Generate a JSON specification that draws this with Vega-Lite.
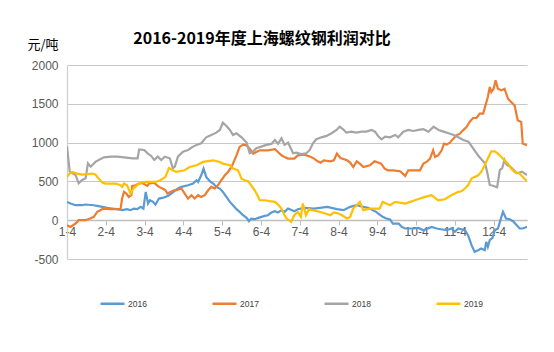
{
  "$schema": "https://vega.github.io/schema/vega-lite/v6.json",
  "autosize": "none",
  "width": 460,
  "height": 194,
  "padding": {"left": 67, "top": 65, "right": 27, "bottom": 93},
  "background": "white",
  "title": {
    "text": "2016-2019年度上海螺纹钢利润对比",
    "font": "Noto Sans CJK SC",
    "fontSize": 16,
    "fontWeight": "bold",
    "color": "#000000",
    "anchor": "middle",
    "frame": "group",
    "dx": -35,
    "offset": -9
  },
  "config": {
    "view": {"stroke": null},
    "axis": {"labelFont": "Liberation Sans", "labelFontSize": 12, "labelColor": "#595959"}
  },
  "datasets": {
    "profit": [
      {"year":"2016","month":1.00,"value":236},{"year":"2016","month":1.09,"value":215},{"year":"2016","month":1.22,"value":193},{"year":"2016","month":1.39,"value":193},{"year":"2016","month":1.47,"value":202},{"year":"2016","month":1.69,"value":193},{"year":"2016","month":1.78,"value":184},{"year":"2016","month":1.91,"value":172},{"year":"2016","month":2.03,"value":159},{"year":"2016","month":2.16,"value":150},{"year":"2016","month":2.29,"value":142},{"year":"2016","month":2.42,"value":129},{"year":"2016","month":2.55,"value":142},{"year":"2016","month":2.64,"value":129},{"year":"2016","month":2.72,"value":150},{"year":"2016","month":2.81,"value":142},{"year":"2016","month":2.90,"value":172},{"year":"2016","month":2.97,"value":150},{"year":"2016","month":3.03,"value":365},{"year":"2016","month":3.09,"value":215},{"year":"2016","month":3.14,"value":257},{"year":"2016","month":3.22,"value":236},{"year":"2016","month":3.28,"value":200},{"year":"2016","month":3.37,"value":279},{"year":"2016","month":3.46,"value":287},{"year":"2016","month":3.54,"value":300},{"year":"2016","month":3.63,"value":322},{"year":"2016","month":3.72,"value":355},{"year":"2016","month":3.80,"value":386},{"year":"2016","month":3.86,"value":408},{"year":"2016","month":3.95,"value":429},{"year":"2016","month":4.12,"value":450},{"year":"2016","month":4.25,"value":472},{"year":"2016","month":4.34,"value":515},{"year":"2016","month":4.38,"value":493},{"year":"2016","month":4.46,"value":579},{"year":"2016","month":4.52,"value":665},{"year":"2016","month":4.59,"value":558},{"year":"2016","month":4.68,"value":502},{"year":"2016","month":4.77,"value":472},{"year":"2016","month":4.85,"value":429},{"year":"2016","month":4.94,"value":408},{"year":"2016","month":5.02,"value":365},{"year":"2016","month":5.11,"value":300},{"year":"2016","month":5.20,"value":236},{"year":"2016","month":5.28,"value":193},{"year":"2016","month":5.37,"value":142},{"year":"2016","month":5.45,"value":107},{"year":"2016","month":5.54,"value":64},{"year":"2016","month":5.63,"value":30},{"year":"2016","month":5.69,"value":-13},{"year":"2016","month":5.75,"value":21},{"year":"2016","month":5.84,"value":13},{"year":"2016","month":5.93,"value":30},{"year":"2016","month":6.10,"value":56},{"year":"2016","month":6.18,"value":64},{"year":"2016","month":6.27,"value":99},{"year":"2016","month":6.36,"value":116},{"year":"2016","month":6.44,"value":99},{"year":"2016","month":6.53,"value":129},{"year":"2016","month":6.61,"value":107},{"year":"2016","month":6.70,"value":150},{"year":"2016","month":6.86,"value":116},{"year":"2016","month":6.95,"value":142},{"year":"2016","month":7.12,"value":159},{"year":"2016","month":7.37,"value":150},{"year":"2016","month":7.71,"value":172},{"year":"2016","month":7.96,"value":142},{"year":"2016","month":8.13,"value":129},{"year":"2016","month":8.30,"value":172},{"year":"2016","month":8.47,"value":193},{"year":"2016","month":8.64,"value":172},{"year":"2016","month":8.76,"value":159},{"year":"2016","month":8.89,"value":129},{"year":"2016","month":8.97,"value":107},{"year":"2016","month":9.06,"value":73},{"year":"2016","month":9.14,"value":43},{"year":"2016","month":9.23,"value":21},{"year":"2016","month":9.33,"value":10},{"year":"2016","month":9.40,"value":-43},{"year":"2016","month":9.55,"value":-43},{"year":"2016","month":9.63,"value":-86},{"year":"2016","month":9.72,"value":-107},{"year":"2016","month":9.93,"value":-107},{"year":"2016","month":10.06,"value":-99},{"year":"2016","month":10.19,"value":-129},{"year":"2016","month":10.40,"value":-86},{"year":"2016","month":10.53,"value":-107},{"year":"2016","month":10.79,"value":-129},{"year":"2016","month":10.91,"value":-107},{"year":"2016","month":11.00,"value":-150},{"year":"2016","month":11.09,"value":-107},{"year":"2016","month":11.26,"value":-129},{"year":"2016","month":11.34,"value":-193},{"year":"2016","month":11.43,"value":-322},{"year":"2016","month":11.51,"value":-408},{"year":"2016","month":11.60,"value":-386},{"year":"2016","month":11.68,"value":-365},{"year":"2016","month":11.77,"value":-386},{"year":"2016","month":11.81,"value":-279},{"year":"2016","month":11.85,"value":-343},{"year":"2016","month":11.90,"value":-257},{"year":"2016","month":11.97,"value":-227},{"year":"2016","month":12.03,"value":-129},{"year":"2016","month":12.11,"value":-107},{"year":"2016","month":12.20,"value":43},{"year":"2016","month":12.24,"value":107},{"year":"2016","month":12.32,"value":21},{"year":"2016","month":12.41,"value":13},{"year":"2016","month":12.50,"value":-13},{"year":"2016","month":12.67,"value":-107},{"year":"2016","month":12.75,"value":-107},{"year":"2016","month":12.86,"value":-86},

      {"year":"2017","month":1.00,"value":-64},{"year":"2017","month":1.09,"value":-86},{"year":"2017","month":1.22,"value":-43},{"year":"2017","month":1.30,"value":0},{"year":"2017","month":1.47,"value":0},{"year":"2017","month":1.60,"value":21},{"year":"2017","month":1.69,"value":43},{"year":"2017","month":1.78,"value":107},{"year":"2017","month":1.86,"value":129},{"year":"2017","month":1.93,"value":150},{"year":"2017","month":2.12,"value":142},{"year":"2017","month":2.38,"value":142},{"year":"2017","month":2.42,"value":279},{"year":"2017","month":2.47,"value":365},{"year":"2017","month":2.53,"value":343},{"year":"2017","month":2.59,"value":300},{"year":"2017","month":2.66,"value":322},{"year":"2017","month":2.68,"value":442},{"year":"2017","month":2.77,"value":450},{"year":"2017","month":2.85,"value":472},{"year":"2017","month":2.94,"value":480},{"year":"2017","month":3.07,"value":442},{"year":"2017","month":3.11,"value":472},{"year":"2017","month":3.24,"value":485},{"year":"2017","month":3.37,"value":429},{"year":"2017","month":3.46,"value":408},{"year":"2017","month":3.54,"value":386},{"year":"2017","month":3.59,"value":343},{"year":"2017","month":3.67,"value":365},{"year":"2017","month":3.76,"value":386},{"year":"2017","month":3.82,"value":386},{"year":"2017","month":3.95,"value":408},{"year":"2017","month":4.12,"value":279},{"year":"2017","month":4.21,"value":322},{"year":"2017","month":4.29,"value":279},{"year":"2017","month":4.38,"value":322},{"year":"2017","month":4.46,"value":300},{"year":"2017","month":4.55,"value":322},{"year":"2017","month":4.64,"value":386},{"year":"2017","month":4.72,"value":429},{"year":"2017","month":4.81,"value":408},{"year":"2017","month":4.89,"value":450},{"year":"2017","month":4.98,"value":515},{"year":"2017","month":5.07,"value":579},{"year":"2017","month":5.15,"value":622},{"year":"2017","month":5.24,"value":686},{"year":"2017","month":5.28,"value":729},{"year":"2017","month":5.37,"value":836},{"year":"2017","month":5.45,"value":944},{"year":"2017","month":5.54,"value":974},{"year":"2017","month":5.63,"value":965},{"year":"2017","month":5.71,"value":922},{"year":"2017","month":5.80,"value":858},{"year":"2017","month":5.88,"value":879},{"year":"2017","month":5.97,"value":901},{"year":"2017","month":6.18,"value":901},{"year":"2017","month":6.36,"value":914},{"year":"2017","month":6.44,"value":879},{"year":"2017","month":6.53,"value":836},{"year":"2017","month":6.61,"value":815},{"year":"2017","month":6.70,"value":794},{"year":"2017","month":6.86,"value":794},{"year":"2017","month":6.95,"value":836},{"year":"2017","month":7.12,"value":845},{"year":"2017","month":7.29,"value":815},{"year":"2017","month":7.37,"value":794},{"year":"2017","month":7.46,"value":759},{"year":"2017","month":7.54,"value":742},{"year":"2017","month":7.62,"value":772},{"year":"2017","month":7.79,"value":759},{"year":"2017","month":7.88,"value":772},{"year":"2017","month":7.96,"value":858},{"year":"2017","month":8.05,"value":802},{"year":"2017","month":8.22,"value":772},{"year":"2017","month":8.30,"value":742},{"year":"2017","month":8.38,"value":686},{"year":"2017","month":8.47,"value":759},{"year":"2017","month":8.55,"value":729},{"year":"2017","month":8.64,"value":686},{"year":"2017","month":8.81,"value":708},{"year":"2017","month":8.93,"value":759},{"year":"2017","month":9.10,"value":729},{"year":"2017","month":9.19,"value":665},{"year":"2017","month":9.27,"value":643},{"year":"2017","month":9.40,"value":643},{"year":"2017","month":9.59,"value":631},{"year":"2017","month":9.72,"value":571},{"year":"2017","month":9.80,"value":643},{"year":"2017","month":10.10,"value":643},{"year":"2017","month":10.19,"value":729},{"year":"2017","month":10.27,"value":751},{"year":"2017","month":10.36,"value":794},{"year":"2017","month":10.44,"value":901},{"year":"2017","month":10.49,"value":815},{"year":"2017","month":10.57,"value":836},{"year":"2017","month":10.66,"value":901},{"year":"2017","month":10.72,"value":987},{"year":"2017","month":10.79,"value":974},{"year":"2017","month":10.87,"value":999},{"year":"2017","month":10.96,"value":1051},{"year":"2017","month":11.04,"value":1094},{"year":"2017","month":11.13,"value":1115},{"year":"2017","month":11.21,"value":1158},{"year":"2017","month":11.30,"value":1201},{"year":"2017","month":11.38,"value":1266},{"year":"2017","month":11.47,"value":1317},{"year":"2017","month":11.56,"value":1317},{"year":"2017","month":11.64,"value":1373},{"year":"2017","month":11.73,"value":1373},{"year":"2017","month":11.79,"value":1480},{"year":"2017","month":11.85,"value":1587},{"year":"2017","month":11.90,"value":1716},{"year":"2017","month":11.94,"value":1652},{"year":"2017","month":12.00,"value":1694},{"year":"2017","month":12.05,"value":1802},{"year":"2017","month":12.11,"value":1694},{"year":"2017","month":12.20,"value":1673},{"year":"2017","month":12.28,"value":1694},{"year":"2017","month":12.37,"value":1566},{"year":"2017","month":12.45,"value":1523},{"year":"2017","month":12.54,"value":1480},{"year":"2017","month":12.62,"value":1287},{"year":"2017","month":12.71,"value":1266},{"year":"2017","month":12.75,"value":987},{"year":"2017","month":12.86,"value":965},

      {"year":"2018","month":1.00,"value":950},{"year":"2018","month":1.07,"value":626},{"year":"2018","month":1.22,"value":583},{"year":"2018","month":1.30,"value":476},{"year":"2018","month":1.39,"value":519},{"year":"2018","month":1.48,"value":540},{"year":"2018","month":1.54,"value":733},{"year":"2018","month":1.61,"value":690},{"year":"2018","month":1.74,"value":755},{"year":"2018","month":1.95,"value":810},{"year":"2018","month":2.13,"value":819},{"year":"2018","month":2.30,"value":819},{"year":"2018","month":2.47,"value":810},{"year":"2018","month":2.69,"value":798},{"year":"2018","month":2.82,"value":798},{"year":"2018","month":2.86,"value":913},{"year":"2018","month":2.99,"value":905},{"year":"2018","month":3.08,"value":862},{"year":"2018","month":3.17,"value":828},{"year":"2018","month":3.25,"value":776},{"year":"2018","month":3.34,"value":819},{"year":"2018","month":3.43,"value":776},{"year":"2018","month":3.52,"value":819},{"year":"2018","month":3.65,"value":798},{"year":"2018","month":3.73,"value":669},{"year":"2018","month":3.78,"value":690},{"year":"2018","month":3.86,"value":819},{"year":"2018","month":3.99,"value":884},{"year":"2018","month":4.12,"value":905},{"year":"2018","month":4.25,"value":948},{"year":"2018","month":4.34,"value":970},{"year":"2018","month":4.46,"value":991},{"year":"2018","month":4.59,"value":1068},{"year":"2018","month":4.72,"value":1098},{"year":"2018","month":4.85,"value":1128},{"year":"2018","month":4.94,"value":1163},{"year":"2018","month":5.02,"value":1258},{"year":"2018","month":5.11,"value":1215},{"year":"2018","month":5.20,"value":1163},{"year":"2018","month":5.28,"value":1098},{"year":"2018","month":5.37,"value":1120},{"year":"2018","month":5.50,"value":1068},{"year":"2018","month":5.63,"value":1000},{"year":"2018","month":5.71,"value":862},{"year":"2018","month":5.80,"value":884},{"year":"2018","month":5.88,"value":927},{"year":"2018","month":6.01,"value":948},{"year":"2018","month":6.14,"value":970},{"year":"2018","month":6.27,"value":983},{"year":"2018","month":6.36,"value":1034},{"year":"2018","month":6.44,"value":983},{"year":"2018","month":6.53,"value":1056},{"year":"2018","month":6.61,"value":970},{"year":"2018","month":6.70,"value":1000},{"year":"2018","month":6.83,"value":862},{"year":"2018","month":6.91,"value":870},{"year":"2018","month":7.04,"value":853},{"year":"2018","month":7.17,"value":862},{"year":"2018","month":7.26,"value":905},{"year":"2018","month":7.34,"value":991},{"year":"2018","month":7.43,"value":1043},{"year":"2018","month":7.56,"value":1068},{"year":"2018","month":7.69,"value":1086},{"year":"2018","month":7.82,"value":1120},{"year":"2018","month":7.95,"value":1163},{"year":"2018","month":8.03,"value":1206},{"year":"2018","month":8.12,"value":1172},{"year":"2018","month":8.20,"value":1128},{"year":"2018","month":8.33,"value":1141},{"year":"2018","month":8.46,"value":1128},{"year":"2018","month":8.59,"value":1141},{"year":"2018","month":8.72,"value":1141},{"year":"2018","month":8.85,"value":1163},{"year":"2018","month":8.94,"value":1141},{"year":"2018","month":9.02,"value":1086},{"year":"2018","month":9.11,"value":1043},{"year":"2018","month":9.20,"value":1077},{"year":"2018","month":9.33,"value":1068},{"year":"2018","month":9.46,"value":1098},{"year":"2018","month":9.54,"value":1068},{"year":"2018","month":9.67,"value":1141},{"year":"2018","month":9.80,"value":1163},{"year":"2018","month":9.93,"value":1150},{"year":"2018","month":10.06,"value":1163},{"year":"2018","month":10.19,"value":1172},{"year":"2018","month":10.32,"value":1141},{"year":"2018","month":10.45,"value":1206},{"year":"2018","month":10.58,"value":1163},{"year":"2018","month":10.71,"value":1141},{"year":"2018","month":10.84,"value":1120},{"year":"2018","month":10.97,"value":1098},{"year":"2018","month":11.09,"value":1068},{"year":"2018","month":11.22,"value":1034},{"year":"2018","month":11.35,"value":1013},{"year":"2018","month":11.44,"value":948},{"year":"2018","month":11.53,"value":884},{"year":"2018","month":11.61,"value":828},{"year":"2018","month":11.70,"value":776},{"year":"2018","month":11.78,"value":733},{"year":"2018","month":11.84,"value":604},{"year":"2018","month":11.90,"value":454},{"year":"2018","month":12.00,"value":441},{"year":"2018","month":12.09,"value":424},{"year":"2018","month":12.16,"value":647},{"year":"2018","month":12.22,"value":669},{"year":"2018","month":12.28,"value":776},{"year":"2018","month":12.34,"value":712},{"year":"2018","month":12.43,"value":690},{"year":"2018","month":12.52,"value":647},{"year":"2018","month":12.60,"value":604},{"year":"2018","month":12.73,"value":626},{"year":"2018","month":12.86,"value":583},

      {"year":"2019","month":1.00,"value":558},{"year":"2019","month":1.07,"value":601},{"year":"2019","month":1.13,"value":622},{"year":"2019","month":1.26,"value":601},{"year":"2019","month":1.39,"value":588},{"year":"2019","month":1.65,"value":601},{"year":"2019","month":1.73,"value":588},{"year":"2019","month":1.82,"value":536},{"year":"2019","month":1.91,"value":485},{"year":"2019","month":1.99,"value":472},{"year":"2019","month":2.25,"value":472},{"year":"2019","month":2.38,"value":450},{"year":"2019","month":2.42,"value":429},{"year":"2019","month":2.47,"value":472},{"year":"2019","month":2.55,"value":450},{"year":"2019","month":2.64,"value":343},{"year":"2019","month":2.71,"value":408},{"year":"2019","month":2.79,"value":442},{"year":"2019","month":2.90,"value":485},{"year":"2019","month":3.03,"value":493},{"year":"2019","month":3.28,"value":493},{"year":"2019","month":3.41,"value":515},{"year":"2019","month":3.54,"value":558},{"year":"2019","month":3.63,"value":674},{"year":"2019","month":3.72,"value":643},{"year":"2019","month":3.82,"value":622},{"year":"2019","month":4.03,"value":643},{"year":"2019","month":4.16,"value":686},{"year":"2019","month":4.34,"value":708},{"year":"2019","month":4.51,"value":751},{"year":"2019","month":4.59,"value":759},{"year":"2019","month":4.77,"value":772},{"year":"2019","month":4.94,"value":751},{"year":"2019","month":5.02,"value":729},{"year":"2019","month":5.20,"value":708},{"year":"2019","month":5.28,"value":665},{"year":"2019","month":5.41,"value":643},{"year":"2019","month":5.50,"value":536},{"year":"2019","month":5.58,"value":515},{"year":"2019","month":5.67,"value":502},{"year":"2019","month":5.75,"value":450},{"year":"2019","month":5.84,"value":386},{"year":"2019","month":5.91,"value":322},{"year":"2019","month":5.97,"value":257},{"year":"2019","month":6.10,"value":257},{"year":"2019","month":6.23,"value":245},{"year":"2019","month":6.36,"value":236},{"year":"2019","month":6.44,"value":202},{"year":"2019","month":6.53,"value":150},{"year":"2019","month":6.61,"value":64},{"year":"2019","month":6.66,"value":21},{"year":"2019","month":6.72,"value":0},{"year":"2019","month":6.78,"value":-21},{"year":"2019","month":6.86,"value":64},{"year":"2019","month":6.95,"value":107},{"year":"2019","month":7.03,"value":43},{"year":"2019","month":7.08,"value":215},{"year":"2019","month":7.16,"value":64},{"year":"2019","month":7.24,"value":142},{"year":"2019","month":7.33,"value":129},{"year":"2019","month":7.58,"value":99},{"year":"2019","month":7.79,"value":64},{"year":"2019","month":7.88,"value":99},{"year":"2019","month":8.00,"value":86},{"year":"2019","month":8.09,"value":64},{"year":"2019","month":8.22,"value":21},{"year":"2019","month":8.30,"value":43},{"year":"2019","month":8.38,"value":150},{"year":"2019","month":8.47,"value":193},{"year":"2019","month":8.55,"value":236},{"year":"2019","month":8.64,"value":129},{"year":"2019","month":8.81,"value":150},{"year":"2019","month":9.06,"value":150},{"year":"2019","month":9.14,"value":236},{"year":"2019","month":9.23,"value":215},{"year":"2019","month":9.33,"value":193},{"year":"2019","month":9.46,"value":236},{"year":"2019","month":9.72,"value":215},{"year":"2019","month":9.85,"value":236},{"year":"2019","month":9.97,"value":257},{"year":"2019","month":10.10,"value":279},{"year":"2019","month":10.23,"value":300},{"year":"2019","month":10.40,"value":322},{"year":"2019","month":10.57,"value":257},{"year":"2019","month":10.74,"value":270},{"year":"2019","month":10.91,"value":322},{"year":"2019","month":11.00,"value":343},{"year":"2019","month":11.09,"value":365},{"year":"2019","month":11.17,"value":373},{"year":"2019","month":11.26,"value":408},{"year":"2019","month":11.34,"value":450},{"year":"2019","month":11.43,"value":536},{"year":"2019","month":11.51,"value":558},{"year":"2019","month":11.60,"value":579},{"year":"2019","month":11.68,"value":622},{"year":"2019","month":11.77,"value":708},{"year":"2019","month":11.85,"value":794},{"year":"2019","month":11.94,"value":888},{"year":"2019","month":12.03,"value":888},{"year":"2019","month":12.11,"value":858},{"year":"2019","month":12.20,"value":815},{"year":"2019","month":12.28,"value":772},{"year":"2019","month":12.37,"value":729},{"year":"2019","month":12.45,"value":665},{"year":"2019","month":12.54,"value":622},{"year":"2019","month":12.67,"value":601},{"year":"2019","month":12.75,"value":558},{"year":"2019","month":12.86,"value":502}
    ]
  },
  "data": {"name": "profit"},
  "mark": {"type": "line", "strokeWidth": 2.2, "clip": true},
  "encoding": {
    "x": {
      "field": "month",
      "type": "quantitative",
      "scale": {"domain": [1, 12.86], "nice": false, "zero": false},
      "axis": {
        "title": null,
        "values": [1,2,3,4,5,6,7,8,9,10,11,12],
        "labelExpr": "datum.value + '-4'",
        "offset": -39,
        "grid": false,
        "domainColor": "#bfbfbf",
        "domainWidth": 1.3,
        "tickColor": "#bfbfbf",
        "tickSize": 5,
        "labelPadding": 1,
        "labelFlush": false,
        "labelOverlap": false
      }
    },
    "y": {
      "field": "value",
      "type": "quantitative",
      "scale": {"domain": [-500, 2000], "nice": false},
      "axis": {
        "title": "元/吨",
        "titleFont": "Noto Sans CJK SC",
        "titleFontSize": 13,
        "titleFontWeight": "normal",
        "titleColor": "#000000",
        "titleAngle": 0,
        "titleAlign": "left",
        "titleBaseline": "middle",
        "titleX": -40,
        "titleY": -21,
        "values": [-500, 0, 500, 1000, 1500, 2000],
        "labelExpr": "'' + datum.value",
        "ticks": false,
        "labelPadding": 9,
        "gridColor": "#c8c8c8",
        "gridWidth": 1.2,
        "domainColor": "#d0d0d0",
        "domainWidth": 1.3
      }
    },
    "color": {
      "field": "year",
      "type": "nominal",
      "scale": {"domain": ["2016","2017","2018","2019"], "range": ["#5B9BD5","#ED7D31","#A5A5A5","#FFC000"]},
      "legend": {
        "title": null,
        "orient": "none",
        "legendX": 32,
        "legendY": 225,
        "direction": "horizontal",
        "columns": 4,
        "columnPadding": 60,
        "symbolType": "stroke",
        "symbolSize": 576,
        "symbolStrokeWidth": 2.5,
        "labelFont": "Liberation Sans",
        "labelFontSize": 8.5,
        "labelColor": "#404040",
        "labelOffset": 2
      }
    }
  }
}
